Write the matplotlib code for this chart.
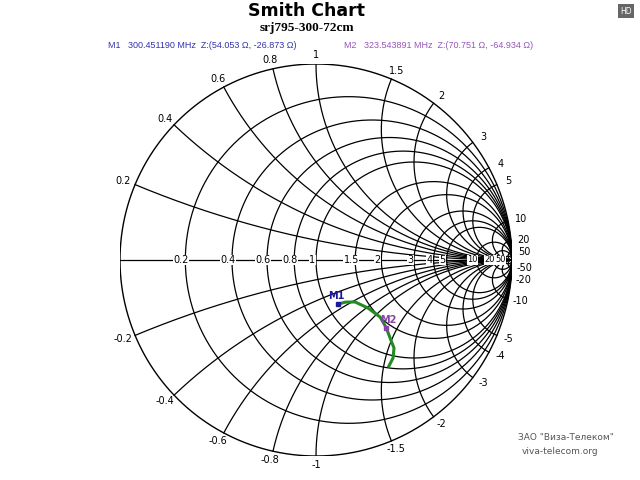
import numpy as np
import matplotlib
matplotlib.use("Agg")
import matplotlib.pyplot as plt

r_vals = [0.2, 0.4, 0.6, 0.8, 1, 1.5, 2, 3, 4, 5, 10, 20, 50]
x_vals = [0.2, 0.4, 0.6, 0.8, 1, 1.5, 2, 3, 4, 5, 10, 20, 50]
r_labels = ["0.2", "0.4", "0.6", "0.8", "1", "1.5", "2", "3", "4", "5", "10", "20", "50"]
# trace in reflection coefficient (Gamma) coordinates
trace_re = [0.112, 0.15, 0.199, 0.265, 0.327, 0.358, 0.378, 0.398, 0.393, 0.372]
trace_im = [-0.225, -0.215, -0.214, -0.245, -0.291, -0.345, -0.398, -0.449, -0.5, -0.541]
m1 = (54.053, -26.873)
m2 = (70.751, -64.934)
Z0 = 50.0

def gamma(z):
    return (z - 1) / (z + 1)

fig = plt.figure(figsize=(6.4, 4.8), dpi=100)
ax = fig.add_axes([120/640, 24/480, 392/640, 392/480])
ax.set_xlim(-1, 1); ax.set_ylim(-1, 1); ax.axis("off")
ax.set_aspect("auto")
lw = 0.9
t = np.linspace(0, 2*np.pi, 600)
ax.plot(np.cos(t), np.sin(t), color="black", lw=1.0)
ax.plot([-1, 1], [0, 0], color="black", lw=lw)
for r in r_vals:
    c = r/(r+1); rad = 1/(r+1)
    ax.plot(c + rad*np.cos(t), rad*np.sin(t), color="black", lw=lw)
for x in x_vals:
    xs = np.concatenate([np.linspace(0, 1, 400), np.logspace(0, 4, 400)])
    for s in (1, -1):
        g = gamma(xs + 1j*s*x)
        ax.plot(g.real, g.imag, color="black", lw=lw)
# resistance labels
for r, lab in zip(r_vals, r_labels):
    g = gamma(r)
    fs = 7 if r < 10 else 6
    ax.text(g.real - 0.02, 0, lab, ha="center", va="center", fontsize=fs,
            bbox=dict(facecolor="white", edgecolor="none", pad=0.3))
# reactance labels
for x, lab in zip(x_vals, r_labels):
    for s, pre in ((1, ""), (-1, "-")):
        g = gamma(1j*s*x)
        ang = np.angle(g)
        ax.text(1.065*np.cos(ang), 1.045*np.sin(ang), pre + lab, ha="center", va="center", fontsize=7)
ax.plot(trace_re, trace_im, color="#228b22", lw=2.2)
g1 = gamma(complex(*m1)/Z0); g2 = gamma(complex(*m2)/Z0)
ax.plot(trace_re[0], trace_im[0], "s", color="#1a1a99", ms=3)
ax.plot(g2.real, g2.imag, "s", color="#8844aa", ms=3)
ax.text(trace_re[0] - 0.01, trace_im[0] + 0.015, "M1", color="#1a1a99", fontsize=7, fontweight="bold", ha="center", va="bottom")
ax.text(g2.real + 0.01, g2.imag + 0.015, "M2", color="#8844aa", fontsize=7, fontweight="bold", ha="center", va="bottom")

fig.text(307/640, 1 - 11/480, "Smith Chart", ha="center", va="center", fontsize=12.5, fontweight="bold")
fig.text(307/640, 1 - 28/480, "srj795-300-72cm", ha="center", va="center", fontsize=9.5, fontweight="bold", family="Liberation Serif")
fig.text(108/640, 1 - 45/480, f"M1   300.451190 MHz  Z:({m1[0]:.3f} Ω, {m1[1]:.3f} Ω)", color="#3333aa", fontsize=6.5, va="center", family="Liberation Sans")
fig.text(344/640, 1 - 45/480, f"M2   323.543891 MHz  Z:({m2[0]:.3f} Ω, {m2[1]:.3f} Ω)", color="#9955bb", fontsize=6.5, va="center", family="Liberation Sans")
fig.text(566/640, 1 - 440/480, "ЗАО \"Виза-Телеком\"", ha="center", fontsize=6.5, color="#555555")
fig.text(560/640, 1 - 454/480, "viva-telecom.org", ha="center", fontsize=6.5, color="#555555")
fig.text(626/640, 1 - 11/480, "HD", ha="center", va="center", fontsize=5.5, color="white",
         bbox=dict(facecolor="#666666", edgecolor="none", pad=1.5))
fig.savefig("out.png", dpi=100)
